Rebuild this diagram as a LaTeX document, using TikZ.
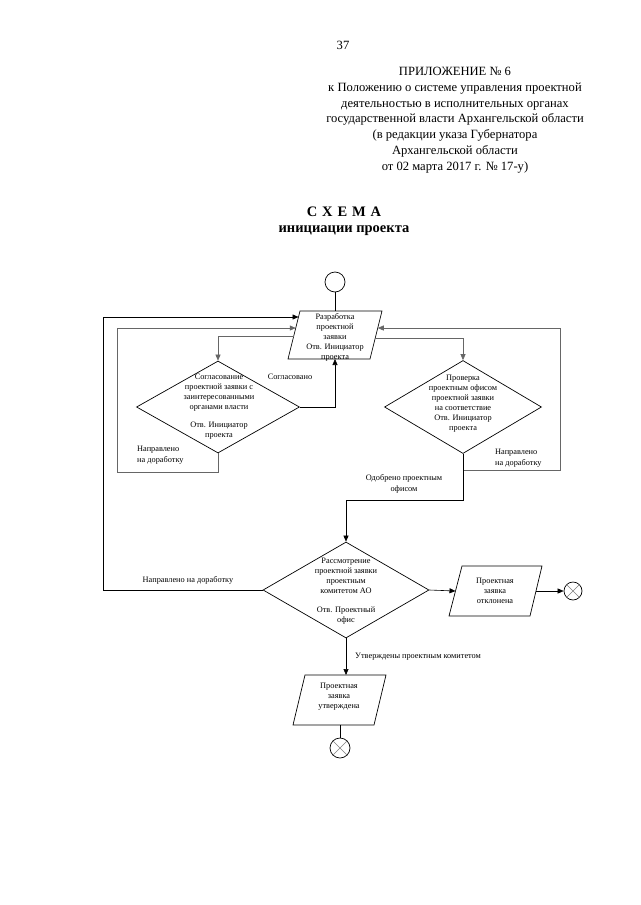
\documentclass[tikz,border=0pt]{standalone}
\usepackage{fontspec}
\setmainfont{Liberation Serif}
\usetikzlibrary{arrows.meta,shapes.geometric}
\begin{document}
\begin{tikzpicture}[x=1pt,y=-1pt,
  box/.style={draw=black,line width=0.7pt},
  link/.style={draw=black,line width=0.6pt},
  soft/.style={draw=black!60,line width=0.6pt},
  arr/.style={-{Triangle[length=6pt,width=5pt]}},
  txt/.style={font=\fontsize{8.3}{10}\selectfont,inner sep=0pt,align=center},
  lbl/.style={font=\fontsize{8.3}{11}\selectfont,inner sep=0pt},
  dia/.style={diamond,draw=black,line width=0.7pt,inner sep=0pt},
  term/.style={circle,draw=black,line width=0.7pt,inner sep=0pt,minimum size=20pt},
]
\useasboundingbox (0,0) rectangle (640,905);
\fill[white] (0,0) rectangle (640,905);

% header
\node[font=\fontsize{12.6}{15.7}\selectfont,inner sep=0pt] (pg) at (343,45) {37};
\node[font=\fontsize{12.6}{15.75}\selectfont,inner sep=0pt,align=center] (hdr) at (455,120) {ПРИЛОЖЕНИЕ № 6\\к Положению о системе управления проектной\\деятельностью в исполнительных органах\\государственной власти Архангельской области\\(в редакции указа Губернатора\\Архангельской области\\от 02 марта 2017 г. № 17-у)};
\node[font=\fontsize{14.5}{16}\selectfont\bfseries,inner sep=0pt,align=center] (ttl) at (344,221) {С\,\,Х\,\,Е\,\,М\,\,А\\инициации проекта};

% start
\node[term] (start) at (335,282) {};

% P1
\draw[box] (300,311) -- (382,311) -- (370,359) -- (288,359) -- cycle;
\node[txt] (p1) at (335,337) {Разработка\\проектной\\заявки\\Отв. Инициатор\\проекта};
\coordinate (p1top) at (335,311);
\coordinate (p1bot) at (335,359);
\coordinate (p1la) at (298.5,317);
\coordinate (p1lb) at (295.75,328);
\coordinate (p1lc) at (293.75,336);
\coordinate (p1ra) at (377.75,328);
\coordinate (p1rb) at (375.25,338);

% diamonds
\node[dia,minimum width=163pt,minimum height=92pt] (d1) at (218,407) {};
\node[txt] (d1t) at (219,407) {Согласование\\проектной заявки с\\заинтересованными\\органами власти\\[8pt]Отв. Инициатор\\проекта};
\node[dia,minimum width=157pt,minimum height=93pt] (d2) at (463,407) {};
\node[txt] (d2t) at (463,404) {Проверка\\проектным офисом\\проектной заявки\\на соответствие\\Отв. Инициатор\\проекта};
\node[dia,minimum width=166pt,minimum height=96pt] (d3) at (346,590) {};
\node[txt] (d3t) at (346,591) {Рассмотрение\\проектной заявки\\проектным\\комитетом АО\\[9pt]Отв. Проектный\\офис};

% P2 (rejected)
\draw[box] (462,566) -- (542,566) -- (530,616) -- (449,616) -- cycle;
\node[txt] (p2) at (495,591) {Проектная\\заявка\\отклонена};
\coordinate (p2l) at (455.5,591);
\coordinate (p2r) at (536,591);
\node[term,minimum size=18pt] (x1) at (573,591) {};
\draw[black!50,line width=0.5pt] (x1.north west) -- (x1.south east) (x1.north east) -- (x1.south west);

% P3 (approved)
\draw[box] (305,675) -- (386,675) -- (374,725) -- (293,725) -- cycle;
\node[txt] (p3) at (339,697) {Проектная\\заявка\\утверждена};
\coordinate (p3top) at (346,675);
\coordinate (p3bot) at (340,725);
\node[term] (x2) at (340,748) {};
\draw[black!50,line width=0.5pt] (x2.north west) -- (x2.south east) (x2.north east) -- (x2.south west);

% connectors
\draw[link] (start.south) -- (p1top);
\draw[link,arr] (d3.west) -- (103,590) -- (103,317) -- (p1la);
\draw[soft,arr] (d1.south) -- (218,472) -- (117,472) -- (117,328) -- (p1lb);
\draw[soft,arr] (p1lc) -- (218,336) -- (d1.north);
\draw[link,arr] (d1.east) -- (335,407) -- (p1bot);
\draw[soft,arr] (p1rb) -- (463,338) -- (d2.north);
\coordinate (split) at (463,470);
\draw[link] (d2.south) -- (split);
\draw[soft,arr] (split) -- (560,470) -- (560,328) -- (p1ra);
\draw[link,arr] (split) -- (463,500) -- (346,500) -- (d3.north);
\draw[link,arr] (d3.east) -- (p2l);
\draw[link,arr] (p2r) -- (x1.west);
\draw[link,arr] (d3.south) -- (p3top);
\draw[link] (p3bot) -- (x2.north);

% labels
\node[lbl] (lagr) at (290,377) {Согласовано};
\node[lbl,anchor=west,align=left] (lret1) at (137,455) {Направлено\\на доработку};
\node[lbl,anchor=west,align=left] (lret2) at (495,458) {Направлено\\на доработку};
\node[lbl,align=center] (lok) at (404,484) {Одобрено проектным\\офисом};
\node[lbl] (lret3) at (188,580) {Направлено на доработку};
\node[lbl,anchor=west] (lappr) at (355,657) {Утверждены проектным комитетом};
\end{tikzpicture}
\end{document}
